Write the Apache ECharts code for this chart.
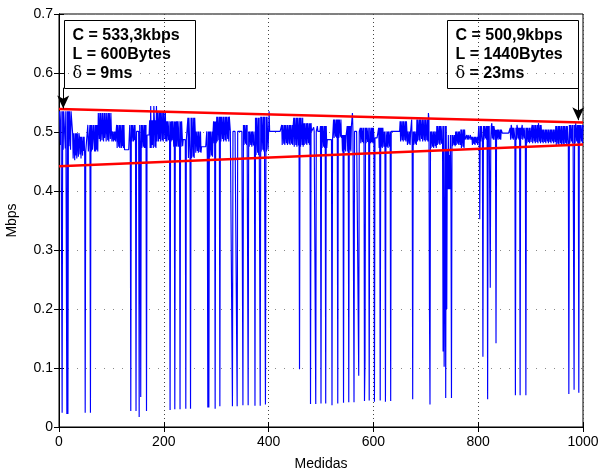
<!DOCTYPE html>
<html>
<head>
<meta charset="utf-8">
<script src="https://cdn.jsdelivr.net/npm/echarts@6/dist/echarts.min.js"></script>
<style>
  html, body { margin: 0; padding: 0; background: #fff; }
  #chart { width: 600px; height: 470px; }
</style>
</head>
<body>
<div id="chart"></div>
<script>
// Measured throughput per sample, kbps (samples 1..1000)
const rateKbps = [
  535,535,478,535,535,24,535,470,535,535,
  532,472,535,535,22,535,22,535,476,535,
  535,470,535,532,535,498,455,498,498,452,
  498,460,498,455,498,498,458,498,492,462,
  492,455,492,492,460,492,468,492,460,24,
  467,467,467,467,512,467,467,467,512,24,
  512,467,512,470,467,512,512,467,512,467,
  512,470,512,467,532,532,488,532,484,532,
  532,486,532,532,484,532,490,532,532,484,
  532,532,486,532,484,532,532,488,532,501,
  484,501,501,484,501,486,501,484,501,512,
  473,512,512,475,512,473,512,512,473,512,
  476,512,473,512,470,470,470,470,470,470,
  470,470,470,470,512,484,27,512,484,512,
  512,484,512,486,512,484,27,501,501,501,
  501,501,17,512,473,51,512,473,512,512,
  475,512,473,512,473,512,27,495,495,495,
  495,495,520,473,544,473,520,478,520,473,
  544,520,475,520,473,544,484,535,535,484,
  535,488,535,484,535,535,486,535,484,535,
  535,488,535,484,518,484,518,518,486,518,
  484,29,518,484,518,486,518,518,475,518,
  30,518,476,518,475,518,518,475,518,476,
  30,518,475,518,518,476,487,487,487,487,
  487,31,487,487,487,524,456,524,524,460,
  31,524,456,524,524,458,524,456,524,501,
  465,501,501,468,501,465,501,501,466,501,
  465,475,475,475,475,475,475,475,475,475,
  475,501,458,33,501,33,501,458,501,501,
  460,501,458,501,518,481,518,31,518,481,
  526,484,526,526,486,526,35,526,484,526,
  526,488,526,484,526,526,486,526,484,526,
  526,488,526,484,526,526,501,501,501,501,
  35,501,501,501,501,501,501,501,501,35,
  501,501,501,501,501,501,501,501,501,501,
  37,512,478,512,512,480,512,478,512,512,
  37,501,475,501,501,478,501,475,501,501,
  477,501,475,36,524,461,524,524,465,524,
  461,524,524,36,526,467,526,526,470,526,
  467,526,526,38,526,467,526,526,470,501,
  535,501,501,501,501,501,501,501,501,501,
  501,501,501,501,501,501,501,501,501,501,
  501,501,501,501,512,478,512,512,480,512,
  478,512,512,481,512,478,512,512,480,512,
  478,512,512,480,512,478,512,524,475,524,
  524,478,524,475,524,524,477,524,98,524,
  475,524,524,478,524,475,515,478,515,515,
  480,515,478,515,515,481,515,478,515,39,
  515,501,501,501,501,508,501,501,501,39,
  501,501,510,501,501,501,501,501,510,40,
  510,473,510,510,475,510,473,510,40,510,
  473,487,487,487,487,487,487,487,487,487,
  37,487,487,521,490,521,521,492,521,490,
  521,40,521,490,521,521,492,521,490,495,
  467,495,41,495,470,495,467,495,495,510,
  467,510,42,510,470,510,467,510,510,532,
  501,501,42,501,501,501,501,501,501,501,
  501,87,501,501,507,481,507,507,483,507,
  481,507,44,113,507,481,507,507,483,507,
  481,45,507,507,481,507,483,507,481,507,
  490,43,490,490,490,490,490,490,490,507,
  473,507,45,507,475,507,473,507,507,475,
  501,473,43,501,501,475,501,473,501,501,
  475,501,44,501,501,501,501,501,501,501,
  501,501,501,501,501,501,501,501,501,501,
  518,484,518,518,486,518,484,518,518,486,
  518,484,518,501,478,501,501,480,501,478,
  501,501,521,478,47,501,478,501,501,480,
  501,478,521,484,521,521,486,521,484,521,
  521,488,521,484,521,521,486,521,484,521,
  521,486,521,484,532,521,201,38,501,473,
  501,501,475,501,473,501,501,476,501,473,
  510,478,510,510,480,510,478,510,510,480,
  510,478,128,510,102,250,510,49,510,200,
  470,403,495,403,461,403,495,403,49,495,
  476,495,495,478,495,476,501,478,501,501,
  480,501,478,501,501,478,504,473,504,504,
  475,504,473,504,487,487,487,495,487,487,
  495,487,487,487,495,487,487,492,478,492,
  492,480,492,478,492,492,481,492,478,492,
  510,484,352,510,484,510,510,486,119,510,
  487,510,510,489,510,487,510,47,510,487,
  510,510,236,487,510,515,489,510,487,510,
  504,487,504,142,504,489,504,487,504,504,
  488,504,487,504,504,498,498,498,498,498,
  498,498,498,498,498,498,498,498,498,498,
  507,487,512,507,489,507,487,507,507,488,
  54,507,487,512,507,489,507,487,507,54,
  507,488,507,512,487,507,507,489,507,481,
  54,507,481,507,507,483,507,481,507,507,
  483,507,512,481,512,515,484,512,481,512,
  512,483,512,481,515,512,484,512,481,512,
  512,483,504,481,504,504,483,504,481,504,
  504,484,504,481,504,504,483,504,481,504,
  504,484,504,481,504,504,483,510,478,510,
  510,480,510,478,510,510,481,510,478,510,
  510,480,510,478,510,510,481,510,478,510,
  510,480,56,512,481,512,515,484,512,481,
  512,512,63,512,481,515,512,484,512,481,
  512,58,512,481,512,515,484,512,481,512
];

// Envelope lines (Mbps) at x = 0 and x = 1000
const fitX = [0, 1000];
const upperFit = [0.539, 0.516];
const lowerFit = [0.442, 0.479];

// Axis ticks
const xTicks = [0, 200, 400, 600, 800, 1000];
const yTicks = [0, 0.1, 0.2, 0.3, 0.4, 0.5, 0.6, 0.7];

// Annotations: arrow x position, arrow start / tip (Mbps), box text
const arrowX = [8, 991];
const arrowTop = [0.575, 0.576];
const arrowTip = [0.540, 0.520];
const noteC = ['533,3kbps', '500,9kbps'];
const noteL = ['600Bytes', '1440Bytes'];
const noteD = ['9ms', '23ms'];

const seriesData = rateKbps.map((v, i) => [i + 1, v / 1000]);

const chart = echarts.init(document.getElementById('chart'), null, { renderer: 'canvas' });
const FONT = 'Liberation Sans, Arial, Helvetica, sans-serif';

function noteBox(i, left) {
  return {
    type: 'group',
    left: left, top: 20,
    children: [
      { type: 'rect', shape: { x: 0, y: 0, width: 131, height: 68 },
        style: { fill: '#fff', stroke: '#000', lineWidth: 1 } },
      { type: 'text', x: 8, y: 6,
        style: {
          text: '{b|C = ' + noteC[i] + '}\n{b|L = ' + noteL[i] + '}\n{d|δ}{b| = ' + noteD[i] + '}',
          rich: {
            b: { fontFamily: FONT, fontWeight: 'bold', fontSize: 16, lineHeight: 19, fill: '#000' },
            d: { fontFamily: 'DejaVu Serif, serif', fontWeight: 'normal', fontSize: 16, lineHeight: 19, fill: '#000' }
          }
        } }
    ]
  };
}

const axisCommon = {
  type: 'value',
  axisLine: { show: true, lineStyle: { color: '#000', width: 1 } },
  axisTick: { show: true, inside: true, length: 5, lineStyle: { color: '#000' } },
  axisLabel: { color: '#000', fontSize: 14, fontFamily: FONT }
};

chart.setOption({
  animation: false,
  backgroundColor: '#fff',
  grid: {
    left: 59, top: 14, right: 17, bottom: 43,
    outerBoundsMode: 'none', containLabel: false,
    show: true, borderColor: '#000', borderWidth: 1
  },
  xAxis: [
    Object.assign({}, axisCommon, {
      min: xTicks[0], max: xTicks[xTicks.length - 1], interval: 200,
      name: 'Medidas', nameLocation: 'middle', nameGap: 30,
      nameTextStyle: { color: '#000', fontSize: 14, fontFamily: FONT },
      axisLabel: Object.assign({}, axisCommon.axisLabel, { margin: 8, formatter: v => String(v) }),
      splitLine: { show: true, lineStyle: { color: '#444', type: [1, 3], width: 1 } }
    }),
    Object.assign({}, axisCommon, {
      position: 'top', min: xTicks[0], max: xTicks[xTicks.length - 1], interval: 200,
      axisLabel: { show: false }, splitLine: { show: false }
    })
  ],
  yAxis: [
    Object.assign({}, axisCommon, {
      min: yTicks[0], max: yTicks[yTicks.length - 1], interval: 0.1,
      name: 'Mbps', nameLocation: 'middle', nameGap: 40,
      nameTextStyle: { color: '#000', fontSize: 14, fontFamily: FONT },
      axisLabel: Object.assign({}, axisCommon.axisLabel, { margin: 6, formatter: v => (v === 0 ? '0' : v.toFixed(1)) }),
      splitLine: { show: true, lineStyle: { color: '#888', type: [1, 8], width: 1.2 } }
    }),
    Object.assign({}, axisCommon, {
      position: 'right', min: yTicks[0], max: yTicks[yTicks.length - 1], interval: 0.1,
      axisLabel: { show: false }, splitLine: { show: false }
    })
  ],
  graphic: [noteBox(0, 64), noteBox(1, 447)],
  series: [
    {
      type: 'line', data: seriesData, showSymbol: false, symbol: 'none',
      sampling: null, lineStyle: { color: '#0000ff', width: 1.15 }, z: 2
    },
    {
      type: 'line', data: fitX.map((x, i) => [x, upperFit[i]]), showSymbol: false, symbol: 'none',
      lineStyle: { color: '#ff0000', width: 2.5 }, z: 3
    },
    {
      type: 'line', data: fitX.map((x, i) => [x, lowerFit[i]]), showSymbol: false, symbol: 'none',
      lineStyle: { color: '#ff0000', width: 2.5 }, z: 3
    },
    {
      type: 'line', data: [], z: 4,
      markLine: {
        silent: true, animation: false,
        symbol: ['none', 'arrow'], symbolSize: [9, 13],
        label: { show: false },
        lineStyle: { color: '#000', width: 1, type: 'solid' },
        data: arrowX.map((x, i) => [{ coord: [x, arrowTop[i]] }, { coord: [x, arrowTip[i]] }])
      }
    }
  ]
});
</script>
</body>
</html>
